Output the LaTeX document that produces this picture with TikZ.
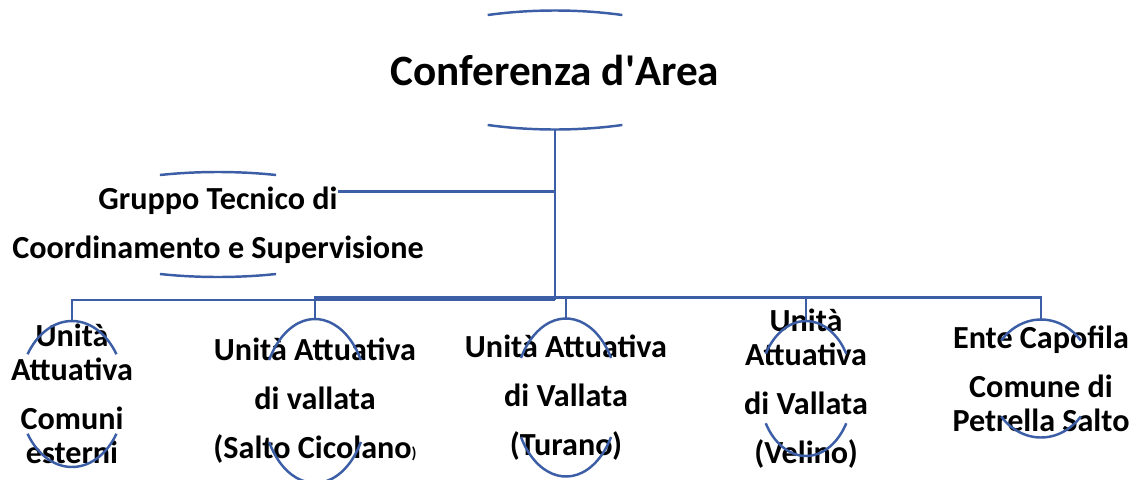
\documentclass[tikz,border=0pt]{standalone}
\usepackage{fontspec}
\setmainfont{Carlito}
\usepackage{tikz}
\usetikzlibrary{positioning, calc}
\definecolor{smart}{RGB}{59,94,166}
\tikzset{
  txt/.style      ={align=center, inner sep=0pt, text=black},
  conf-txt/.style ={txt, font=\fontsize{24.6}{29}\selectfont\bfseries},
  unit/.style     ={txt, font=\fontsize{18.3}{19.4}\selectfont\bfseries},
  oval/.style     ={draw=smart, line width=1.4pt},
  link/.style     ={-, draw=smart, line width=1.5pt},
}
% top and bottom arcs of an oval round a node: name, x radius, y radius, gap angle
\newcommand\ovalarcs[4]{%
  \draw[oval] (#1.center) ++(#4:#2 and #3)
    arc[start angle=#4, end angle=180-#4, x radius=#2, y radius=#3];
  \draw[oval] (#1.center) ++(180+#4:#2 and #3)
    arc[start angle=180+#4, end angle=360-#4, x radius=#2, y radius=#3];
  \path (#1.center) ++(0,#3) coordinate (#1-top);
  \path (#1.center) ++(0,-#3) coordinate (#1-bot);
}

\begin{document}
\begin{tikzpicture}
\useasboundingbox (0,0) rectangle (22.8,-9.58);

% --- top: conference ---
\node[conf-txt] (conf) at (11.1,-1.40) {Conferenza d\textquotesingle Area};
\ovalarcs{conf}{3.52}{1.19}{67.5}

% --- technical group ---
\coordinate (gtc) at (4.36,-4.49);
\node[unit, anchor=base] (gtc1) at (4.36,-4.18) {Gruppo Tecnico di};
\node[unit, anchor=base] (gtc2) at (4.36,-5.16) {Coordinamento e Supervisione};
\ovalarcs{gtc}{3.48}{1.05}{70.5}

% --- implementing units ---
\node[unit] (ua1) at (1.44,-7.88) {Unità\\Attuativa\\[8.5pt]Comuni\\esterni};
\node[unit] (ua2) at (6.30,-8.02)
  {Unità Attuativa\\[8.5pt]di vallata\\[8.5pt](Salto Cicolano{\fontsize{9}{9}\selectfont)}};
\node[unit] (ua3) at (11.32,-7.95) {Unità Attuativa\\[8.5pt]di Vallata\\[8.5pt](Turano)};
\node[unit] (ua4) at (16.12,-7.77) {Unità\\Attuativa\\[8.5pt]di Vallata\\[8.5pt](Velino)};
\node[unit] (ente) at (20.82,-7.57) {Ente Capofila\\[8.5pt]Comune di\\Petrella Salto};

\ovalarcs{ua1}{1.06}{1.46}{33}
\ovalarcs{ua2}{1.06}{1.64}{30}
\ovalarcs{ua3}{1.04}{1.58}{30}
\ovalarcs{ua4}{0.94}{1.35}{31}
\ovalarcs{ente}{1.04}{1.18}{40}

% --- connectors ---
\coordinate (bus1) at (11.1,-6.00);
\coordinate (bus2) at (11.1,-5.95);
\draw[link] (conf-bot) -- (bus1);
\draw[link] ([yshift=5pt]gtc1.east) -- ([yshift=5pt]gtc1.east -| conf-bot);
\draw[link] (ua1-top) |- (bus1);
\draw[link] (ua2-top) |- (bus2) -| (ente-top);
\draw[link] (ua3-top) -- (ua3-top |- bus2);
\draw[link] (ua4-top) -- (ua4-top |- bus2);

\end{tikzpicture}
\end{document}
